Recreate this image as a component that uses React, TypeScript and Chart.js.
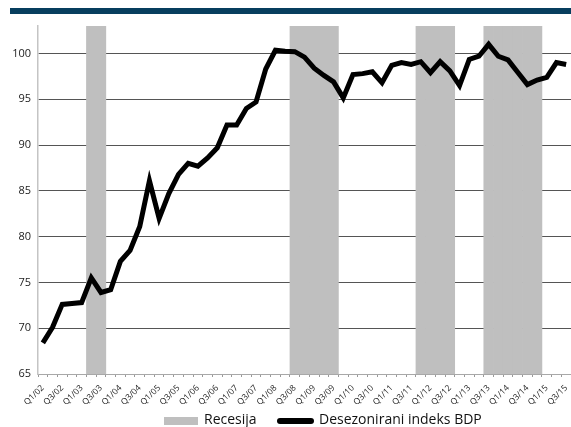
import React, { useEffect, useRef } from "react";
import { Chart, registerables } from "chart.js";

Chart.register(...registerables);

const categories = [
  "Q1/02", "Q2/02", "Q3/02", "Q4/02",
  "Q1/03", "Q2/03", "Q3/03", "Q4/03",
  "Q1/04", "Q2/04", "Q3/04", "Q4/04",
  "Q1/05", "Q2/05", "Q3/05", "Q4/05",
  "Q1/06", "Q2/06", "Q3/06", "Q4/06",
  "Q1/07", "Q2/07", "Q3/07", "Q4/07",
  "Q1/08", "Q2/08", "Q3/08", "Q4/08",
  "Q1/09", "Q2/09", "Q3/09", "Q4/09",
  "Q1/10", "Q2/10", "Q3/10", "Q4/10",
  "Q1/11", "Q2/11", "Q3/11", "Q4/11",
  "Q1/12", "Q2/12", "Q3/12", "Q4/12",
  "Q1/13", "Q2/13", "Q3/13", "Q4/13",
  "Q1/14", "Q2/14", "Q3/14", "Q4/14",
  "Q1/15", "Q2/15", "Q3/15",
];

const gdpIndex = [
  68.4, 70.1, 72.6, 72.7,
  72.8, 75.5, 73.9, 74.2,
  77.3, 78.5, 81.1, 86.1,
  82.0, 84.7, 86.8, 88.0,
  87.7, 88.6, 89.7, 92.2,
  92.2, 94.0, 94.7, 98.3,
  100.35, 100.25, 100.2, 99.6,
  98.4, 97.6, 96.9, 95.15,
  97.7, 97.8, 98.0, 96.8,
  98.7, 99.0, 98.8, 99.1,
  97.9, 99.1, 98.1, 96.5,
  99.35, 99.7, 101.0, 99.7,
  99.3, 97.95, 96.6, 97.1,
  97.4, 99.0, 98.8,
];

// 1 = quarter in recession
const recessionFlags = [
  0, 0, 0, 0,
  0, 1, 1, 0,
  0, 0, 0, 0,
  0, 0, 0, 0,
  0, 0, 0, 0,
  0, 0, 0, 0,
  0, 0, 1, 1,
  1, 1, 1, 0,
  0, 0, 0, 0,
  0, 0, 0, 1,
  1, 1, 1, 0,
  0, 0, 1, 1,
  1, 1, 1, 1,
  0, 0, 0,
];

const yTickValues = [65, 70, 75, 80, 85, 90, 95, 100];
const Y_MIN = 65;
const Y_MAX = 103;

const recessionLabel = "Recesija";
const gdpLabel = "Desezonirani indeks BDP";
const recessionColor = "#bfbfbf";
const lineColor = "#000000";
const FONT = "'Open Sans', 'Noto Sans', sans-serif";

export default function App() {
  const canvasRef = useRef<HTMLCanvasElement | null>(null);

  useEffect(() => {
    const canvas = canvasRef.current;
    if (!canvas) return;

    const topBand = {
      id: "topBand",
      beforeDraw(chart: any) {
        const ctx = chart.ctx;
        ctx.save();
        ctx.fillStyle = "#073e5e";
        ctx.fillRect(10, 8, chart.width - 10, 6);
        ctx.restore();
      },
    };

    const chart = new Chart(canvas, {
      type: "bar",
      data: {
        labels: categories,
        datasets: [
          {
            type: "bar",
            label: recessionLabel,
            data: recessionFlags.map((f) => (f ? Y_MAX : null)),
            backgroundColor: recessionColor,
            borderWidth: 0,
            barPercentage: 1,
            categoryPercentage: 1,
            order: 2,
          } as any,
          {
            type: "line",
            label: gdpLabel,
            data: gdpIndex,
            borderColor: lineColor,
            backgroundColor: lineColor,
            borderWidth: 5,
            pointRadius: 0,
            pointHoverRadius: 0,
            tension: 0,
            fill: false,
            order: 1,
          } as any,
        ],
      },
      options: {
        animation: false,
        responsive: true,
        maintainAspectRatio: false,
        layout: { padding: { top: 26, left: 0, right: 0, bottom: 23 } },
        plugins: {
          legend: { display: false },
          tooltip: { enabled: false },
        },
        scales: {
          x: {
            offset: true,
            grid: {
              offset: true,
              drawOnChartArea: false,
              drawTicks: true,
              tickLength: 3,
              color: "#9a9a9a",
            },
            border: { color: "#a8a8a8", width: 1 },
            ticks: {
              autoSkip: false,
              maxRotation: 45,
              minRotation: 45,
              padding: 6,
              color: "#222",
              font: { size: 8.5, family: FONT },
              callback: (_v: any, i: number) => (i % 2 === 0 ? categories[i] : ""),
            },
            afterFit: (s: any) => {
              s.height = 30;
              s.paddingLeft = 0;
              s.paddingRight = 0;
            },
          },
          y: {
            min: Y_MIN,
            max: Y_MAX,
            afterBuildTicks: (axis: any) => {
              axis.ticks = yTickValues.map((v) => ({ value: v }));
            },
            grid: {
              drawTicks: false,
              lineWidth: 1,
              color: (ctx: any) =>
                ctx.tick && ctx.tick.value === Y_MIN ? "rgba(0,0,0,0)" : "#555555",
            },
            border: { color: "#c4c4c4", width: 1.5 },
            ticks: {
              padding: 7,
              color: "#222",
              font: { size: 11, family: FONT },
            },
            afterFit: (s: any) => {
              s.width = 38;
              s.paddingTop = 0;
              s.paddingBottom = 0;
            },
          },
        },
      },
      plugins: [topBand],
    });

    return () => chart.destroy();
  }, []);

  return (
    <div style={{ position: "absolute", left: 0, top: 0, width: 571, height: 427, background: "#fff", overflow: "hidden" }}>
      <canvas ref={canvasRef} />
      <div style={{ position: "absolute", left: 164, top: 416.5, width: 34, height: 8, background: recessionColor }} />
      <span style={{ position: "absolute", left: 204, top: 411.6, fontFamily: FONT, fontSize: 14, lineHeight: "14px", color: "#111", whiteSpace: "nowrap" }}>
        {recessionLabel}
      </span>
      <div style={{ position: "absolute", left: 277, top: 417.5, width: 37, height: 6, background: lineColor, borderRadius: 3 }} />
      <span style={{ position: "absolute", left: 319, top: 411.6, fontFamily: FONT, fontSize: 14, lineHeight: "14px", color: "#111", whiteSpace: "nowrap" }}>
        {gdpLabel}
      </span>
    </div>
  );
}
